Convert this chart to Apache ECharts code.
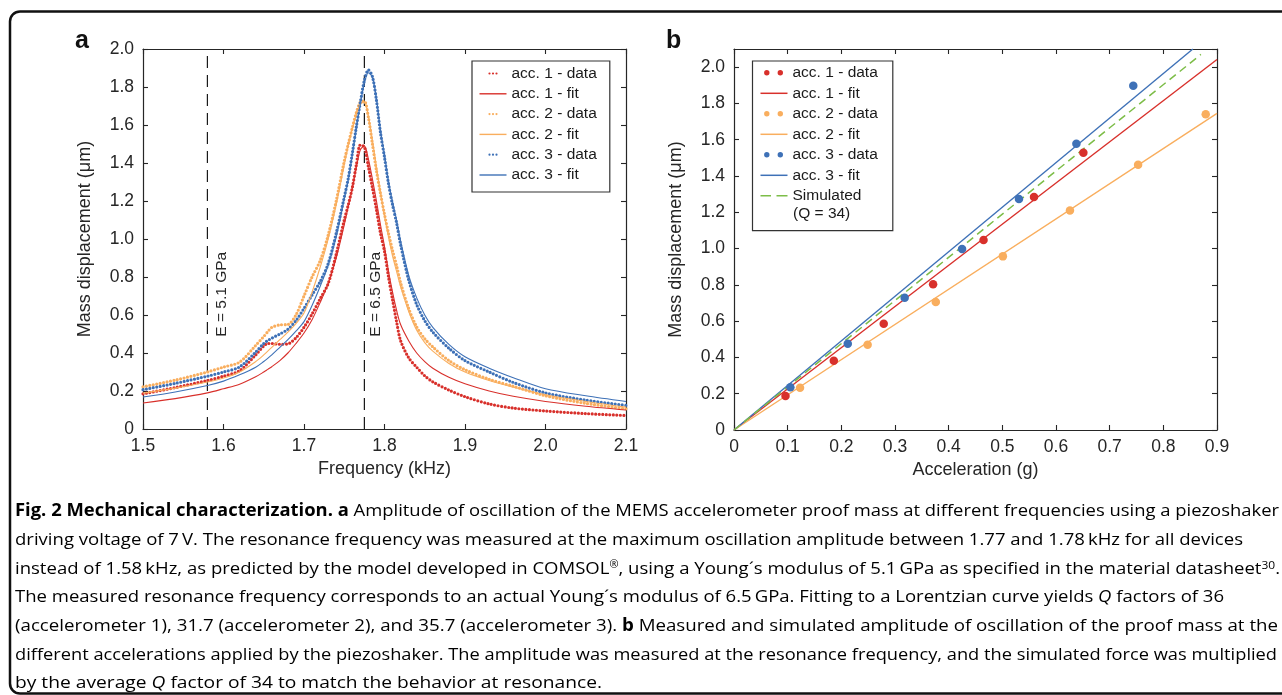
<!DOCTYPE html>
<html>
<head>
<meta charset="utf-8">
<script src="https://cdn.jsdelivr.net/npm/echarts@6/dist/echarts.min.js"></script>
<style>
  html, body { margin: 0; padding: 0; background: #fff; }
  #chart { width: 1282px; height: 695px; }
</style>
</head>
<body>
<div id="chart"></div>
<script>
// ---- panel a: frequency sweep (kHz) vs mass displacement (um) ----
const freq = [1.50, 1.54, 1.58, 1.60, 1.62, 1.64, 1.65, 1.655, 1.66, 1.67, 1.68, 1.69, 1.70, 1.71, 1.72, 1.73, 1.74, 1.75, 1.755, 1.76, 1.765, 1.77, 1.775, 1.78, 1.785, 1.79, 1.795, 1.80, 1.805, 1.81, 1.815, 1.82, 1.83, 1.84, 1.85, 1.86, 1.88, 1.90, 1.93, 1.96, 2.00, 2.05, 2.10];
const acc1Data = [0.185, 0.218, 0.255, 0.278, 0.307, 0.39, 0.437, 0.450, 0.450, 0.446, 0.448, 0.480, 0.535, 0.605, 0.685, 0.765, 0.92, 1.10, 1.18, 1.27, 1.39, 1.495, 1.485, 1.38, 1.27, 1.155, 1.03, 0.935, 0.80, 0.68, 0.565, 0.465, 0.375, 0.325, 0.28, 0.248, 0.205, 0.17, 0.132, 0.11, 0.095, 0.081, 0.071];
const acc1Fit = [0.137, 0.16, 0.19, 0.212, 0.236, 0.275, 0.30, 0.314, 0.328, 0.36, 0.40, 0.45, 0.505, 0.575, 0.665, 0.765, 0.90, 1.075, 1.17, 1.265, 1.375, 1.47, 1.49, 1.42, 1.315, 1.20, 1.075, 0.96, 0.83, 0.72, 0.625, 0.55, 0.465, 0.40, 0.355, 0.32, 0.272, 0.238, 0.20, 0.172, 0.145, 0.12, 0.10];
const acc2Data = [0.222, 0.257, 0.30, 0.326, 0.352, 0.44, 0.487, 0.512, 0.535, 0.548, 0.55, 0.60, 0.70, 0.80, 0.885, 1.02, 1.20, 1.41, 1.50, 1.585, 1.665, 1.72, 1.725, 1.64, 1.50, 1.36, 1.24, 1.13, 1.03, 0.94, 0.86, 0.77, 0.635, 0.537, 0.475, 0.432, 0.36, 0.312, 0.262, 0.225, 0.175, 0.135, 0.106];
const acc2Fit = [0.189, 0.215, 0.247, 0.268, 0.30, 0.355, 0.39, 0.41, 0.43, 0.47, 0.51, 0.555, 0.61, 0.72, 0.85, 1.00, 1.18, 1.39, 1.49, 1.58, 1.655, 1.71, 1.72, 1.645, 1.52, 1.38, 1.245, 1.12, 1.01, 0.91, 0.83, 0.75, 0.62, 0.52, 0.455, 0.41, 0.345, 0.30, 0.255, 0.22, 0.18, 0.145, 0.115];
const acc3Data = [0.207, 0.24, 0.278, 0.30, 0.327, 0.405, 0.45, 0.466, 0.478, 0.50, 0.525, 0.57, 0.635, 0.705, 0.775, 0.87, 1.03, 1.22, 1.32, 1.45, 1.59, 1.72, 1.835, 1.89, 1.855, 1.73, 1.56, 1.43, 1.29, 1.18, 1.085, 0.97, 0.785, 0.655, 0.57, 0.51, 0.425, 0.36, 0.30, 0.245, 0.19, 0.152, 0.124];
const acc3Fit = [0.168, 0.195, 0.229, 0.252, 0.285, 0.325, 0.355, 0.372, 0.39, 0.43, 0.47, 0.515, 0.565, 0.65, 0.75, 0.86, 1.01, 1.21, 1.31, 1.44, 1.58, 1.71, 1.82, 1.875, 1.85, 1.74, 1.575, 1.445, 1.305, 1.195, 1.10, 0.99, 0.81, 0.69, 0.60, 0.535, 0.445, 0.38, 0.32, 0.27, 0.212, 0.175, 0.145];
const dashFreq = [1.58, 1.775];
const dashLabels = ['E = 5.1 GPa', 'E = 6.5 GPa'];
const rangeA = [0, 2.0];

// ---- panel b: acceleration (g) vs mass displacement (um) ----
const acc1X = [0.096, 0.186, 0.279, 0.371, 0.465, 0.559, 0.651];
const acc1Y = [0.187, 0.382, 0.586, 0.803, 1.047, 1.284, 1.528];
const acc2X = [0.123, 0.249, 0.376, 0.501, 0.626, 0.753, 0.879];
const acc2Y = [0.233, 0.470, 0.705, 0.957, 1.210, 1.462, 1.741];
const acc3X = [0.105, 0.212, 0.318, 0.425, 0.531, 0.638, 0.744];
const acc3Y = [0.235, 0.476, 0.729, 0.997, 1.273, 1.578, 1.897];
const fit1X = [0, 0.9], fit1Y = [0, 2.042];
const fit2X = [0, 0.9], fit2Y = [0, 1.745];
const fit3X = [0, 0.855], fit3Y = [0, 2.1];
const simX = [0, 0.87], simY = [0, 2.07];

const RED = '#d8302b';
const ORANGE = '#f9ae5e';
const BLUE = '#3e71b7';
const GREEN = '#7dbd48';
const AXIS = '#262626';
const FONT = 'Liberation Sans';

const zip = (xs, ys) => xs.map((x, i) => [x, ys[i]]);
const tick1 = v => (v === 0 ? '0' : v.toFixed(1));

// legend icons drawn as paths inside a fixed box so they keep their shape
const dot = (cx, cy, r) => `M${cx + r},${cy}A${r},${r},0,1,1,${cx - r},${cy}A${r},${r},0,1,1,${cx + r},${cy}Z`;
const bar = (x0, x1, cy, h) => `M${x0},${cy - h / 2}L${x1},${cy - h / 2}L${x1},${cy + h / 2}L${x0},${cy + h / 2}Z`;
const DOTS3 = 'path://M0,0M27,4' + dot(10, 2, 1.1) + dot(13.5, 2, 1.1) + dot(17, 2, 1.1);
const LINE_A = 'path://M0,0M27,4' + bar(0, 27, 2, 1.4);
const DOTS2 = 'path://M0,0M27,6' + dot(6.3, 3, 2.7) + dot(19.8, 3, 2.7);
const LINE_B = 'path://M0,0M27,6' + bar(0, 27, 3, 1.5);
const DASH_B = 'path://M0,0M27,6' + bar(0, 10.5, 3, 1.6) + bar(16, 27, 3, 1.6);

const chart = echarts.init(document.getElementById('chart'));

function boxAxes(grid, min, max, interval, isX, name, gap, extra) {
  const base = {
    gridIndex: grid,
    type: 'value',
    min, max, interval,
    axisLine: { show: true, onZero: false, lineStyle: { color: AXIS, width: 1.2 } },
    axisTick: { show: true, inside: true, length: 5, lineStyle: { color: AXIS, width: 1.1 } },
    splitLine: { show: false }
  };
  const main = Object.assign({}, base, {
    position: isX ? 'bottom' : 'left',
    name,
    nameLocation: 'middle',
    nameGap: gap,
    nameTextStyle: { fontFamily: FONT, fontSize: 18, color: AXIS },
    axisLabel: { fontFamily: FONT, fontSize: 17.5, color: AXIS, margin: isX ? 8 : 9, formatter: tick1 }
  }, extra || {});
  const mirror = Object.assign({}, base, {
    position: isX ? 'top' : 'right',
    axisLabel: { show: false }
  });
  return [main, mirror];
}

const curve = (name, vals, color, isData) => ({
  name,
  type: 'line',
  xAxisIndex: 0,
  yAxisIndex: 0,
  data: zip(freq, vals),
  symbol: 'none',
  smooth: 0.3,
  lineStyle: isData
    ? { color, width: 3.2, type: [0, 3.5], cap: 'round', join: 'round' }
    : { color, width: 1.1 },
  itemStyle: { color },
  z: isData ? 2 : 3
});

// vertical dashed reference lines in panel a
const dashSeries = dashFreq.map((f, i) => ({
  name: 'ref' + i,
  type: 'line',
  xAxisIndex: 0,
  yAxisIndex: 0,
  data: zip([f, f], rangeA),
  symbol: 'none',
  silent: true,
  lineStyle: { color: '#1a1a1a', type: [12, 7], width: 1.2 },
  z: 1
}));

const fitLine = (name, xs, ys, color, dashed) => ({
  name,
  type: 'line',
  xAxisIndex: 2,
  yAxisIndex: 2,
  data: zip(xs, ys),
  symbol: 'none',
  clip: true,
  lineStyle: dashed ? { color, width: 1.5, type: [8, 5] } : { color, width: 1.4 },
  itemStyle: { color },
  z: 2
});

const dots = (name, xs, ys, color) => ({
  name,
  type: 'scatter',
  xAxisIndex: 2,
  yAxisIndex: 2,
  data: zip(xs, ys),
  symbol: 'circle',
  symbolSize: 8.5,
  itemStyle: { color, opacity: 1 },
  z: 4
});

const xa = boxAxes(0, 1.5, 2.1, 0.1, true, 'Frequency (kHz)', 31);
const ya = boxAxes(0, rangeA[0], rangeA[1], 0.2, false, 'Mass displacement (\u03bcm)', 49);
const xb = boxAxes(1, 0, 0.9, 0.1, true, 'Acceleration (g)', 31);
const yb = boxAxes(1, 0, 2.1, 0.2, false, 'Mass displacement (\u03bcm)', 49, {
  axisLabel: { fontFamily: FONT, fontSize: 17.5, color: AXIS, margin: 9, formatter: tick1, showMaxLabel: false }
});

const B = '\u200b'; // keeps panel b legend names distinct from panel a

const series = [
  ...dashSeries,
  curve('acc. 1 - data', acc1Data, RED, true),
  curve('acc. 1 - fit', acc1Fit, RED, false),
  curve('acc. 2 - data', acc2Data, ORANGE, true),
  curve('acc. 2 - fit', acc2Fit, ORANGE, false),
  curve('acc. 3 - data', acc3Data, BLUE, true),
  curve('acc. 3 - fit', acc3Fit, BLUE, false),
  fitLine('acc. 1 - fit' + B, fit1X, fit1Y, RED),
  fitLine('acc. 2 - fit' + B, fit2X, fit2Y, ORANGE),
  fitLine('acc. 3 - fit' + B, fit3X, fit3Y, BLUE),
  fitLine('Simulated', simX, simY, GREEN, true),
  dots('acc. 1 - data' + B, acc1X, acc1Y, RED),
  dots('acc. 2 - data' + B, acc2X, acc2Y, ORANGE),
  dots('acc. 3 - data' + B, acc3X, acc3Y, BLUE)
];

const legendText = { fontFamily: FONT, fontSize: 15.5, color: '#1a1a1a' };

const option = {
  animation: false,
  backgroundColor: '#fff',
  grid: [
    { left: 143, top: 49, width: 483, height: 380 },
    { left: 734, top: 49, width: 483, height: 381 }
  ],
  xAxis: [xa[0], xa[1], xb[0], xb[1]],
  yAxis: [ya[0], ya[1], yb[0], yb[1]],
  legend: [
    {
      orient: 'vertical',
      left: 472, top: 61,
      padding: [4.5, 13, 9, 7.5],
      itemGap: 4.3,
      itemWidth: 27, itemHeight: 4,
      borderColor: '#333', borderWidth: 1.2,
      backgroundColor: '#fff',
      selectedMode: false,
      itemStyle: { borderWidth: 0 },
      textStyle: legendText,
      data: [
        { name: 'acc. 1 - data', icon: DOTS3 },
        { name: 'acc. 1 - fit', icon: LINE_A },
        { name: 'acc. 2 - data', icon: DOTS3 },
        { name: 'acc. 2 - fit', icon: LINE_A },
        { name: 'acc. 3 - data', icon: DOTS3 },
        { name: 'acc. 3 - fit', icon: LINE_A }
      ]
    },
    {
      orient: 'vertical',
      left: 752.5, top: 61,
      padding: [3.8, 15, 26.8, 8],
      itemGap: 4.5,
      itemWidth: 27, itemHeight: 6,
      borderColor: '#333', borderWidth: 1.2,
      backgroundColor: '#fff',
      selectedMode: false,
      itemStyle: { borderWidth: 0 },
      textStyle: legendText,
      data: [
        { name: 'acc. 1 - data' + B, icon: DOTS2 },
        { name: 'acc. 1 - fit' + B, icon: LINE_B },
        { name: 'acc. 2 - data' + B, icon: DOTS2 },
        { name: 'acc. 2 - fit' + B, icon: LINE_B },
        { name: 'acc. 3 - data' + B, icon: DOTS2 },
        { name: 'acc. 3 - fit' + B, icon: LINE_B },
        { name: 'Simulated', icon: DASH_B }
      ]
    }
  ],
  series
};

chart.setOption(option);

// ---- caption, frame and annotations ----
const capStyles = {
  n: { fontSize: 17, fontFamily: 'Open Sans', color: '#231f20' },
  b: { fontSize: 17, fontFamily: 'Open Sans', fontWeight: 'bold', color: '#111' },
  i: { fontSize: 17, fontFamily: 'Open Sans', fontStyle: 'italic', color: '#231f20' },
  sup: { fontSize: 10, fontFamily: 'Open Sans', color: '#231f20', verticalAlign: 'top' },
  ref: { fontSize: 11, fontFamily: 'Open Sans', color: '#2f5fd0', verticalAlign: 'top' }
};

const captionLines = [
  [['b', 'Fig. 2 Mechanical characterization.'], ['n', ' '], ['b', 'a'], ['n', ' Amplitude of oscillation of the MEMS accelerometer proof mass at different frequencies using a piezoshaker']],
  [['n', 'driving voltage of 7\u2009V. The resonance frequency was measured at the maximum oscillation amplitude between 1.77 and 1.78\u2009kHz for all devices']],
  [['n', 'instead of 1.58\u2009kHz, as predicted by the model developed in COMSOL'], ['sup', '\u00ae'], ['n', ', using a Young\u00b4s modulus of 5.1\u2009GPa as specified in the material datasheet'], ['ref', '30'], ['n', '.']],
  [['n', 'The measured resonance frequency corresponds to an actual Young\u00b4s modulus of 6.5\u2009GPa. Fitting to a Lorentzian curve yields '], ['i', 'Q'], ['n', ' factors of 36']],
  [['n', '(accelerometer 1), 31.7 (accelerometer 2), and 35.7 (accelerometer 3). '], ['b', 'b'], ['n', ' Measured and simulated amplitude of oscillation of the proof mass at the']],
  [['n', 'different accelerations applied by the piezoshaker. The amplitude was measured at the resonance frequency, and the simulated force was multiplied']],
  [['n', 'by the average '], ['i', 'Q'], ['n', ' factor of 34 to match the behavior at resonance.']]
];
const captionEnds = [1279, 1243, 1280, 1224, 1278, 1277, 602];

const mctx = document.createElement('canvas').getContext('2d');
function tokenWidth(kind, txt) {
  const s = capStyles[kind];
  mctx.font = [s.fontStyle, s.fontWeight, s.fontSize + 'px', '"' + s.fontFamily + '"'].filter(Boolean).join(' ');
  return mctx.measureText(txt).width;
}

const graphics = [
  {
    type: 'rect',
    shape: { x: 10, y: 11.5, width: 1290, height: 682, r: 10 },
    style: { fill: 'none', stroke: '#111', lineWidth: 2.5 },
    silent: true
  },
  { type: 'text', x: 75, y: 41, style: { text: 'a', font: 'bold 25px "Liberation Sans"', fill: '#111', verticalAlign: 'middle' } },
  { type: 'text', x: 666, y: 41, style: { text: 'b', font: 'bold 25px "Liberation Sans"', fill: '#111', verticalAlign: 'middle' } },
  { type: 'text', x: 793, y: 214, z: 100, style: { text: '(Q = 34)', font: '15.5px "Liberation Sans"', fill: '#1a1a1a', verticalAlign: 'middle' } }
];

captionLines.forEach((line, i) => {
  const w = line.reduce((acc, t) => acc + tokenWidth(t[0], t[1]), 0);
  graphics.push({
    type: 'text',
    x: 15,
    y: 511.5 + 28.67 * i,
    scaleX: (captionEnds[i] - 15) / w,
    style: {
      text: line.map(t => '{' + t[0] + '|' + t[1] + '}').join(''),
      rich: capStyles,
      verticalAlign: 'middle',
      align: 'left'
    }
  });
});

// rotated labels next to the dashed lines
const labelOffset = [0.0175, 0.0138];
dashFreq.forEach((f, i) => {
  const p = chart.convertToPixel({ gridIndex: 0 }, [f + labelOffset[i], 0.709]);
  graphics.push({
    type: 'text',
    x: p[0], y: p[1],
    rotation: Math.PI / 2,
    z: 100,
    style: { text: dashLabels[i], font: '15.5px "Liberation Sans"', fill: AXIS, align: 'center', verticalAlign: 'middle' }
  });
});

chart.setOption({ graphic: graphics });
</script>
</body>
</html>
